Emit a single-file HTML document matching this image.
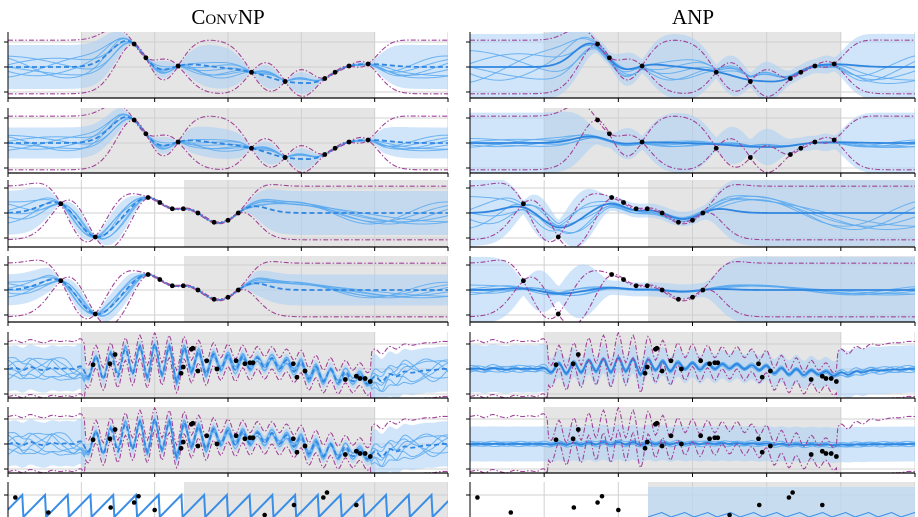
<!DOCTYPE html>
<html><head><meta charset="utf-8"><style>
html,body{margin:0;padding:0;background:#fff;width:918px;height:517px;overflow:hidden}
svg{display:block}
</style></head><body>
<svg id="fig" width="918" height="517" viewBox="0 0 918 517" xmlns="http://www.w3.org/2000/svg">
<text x="228" y="24" text-anchor="middle" font-family="Liberation Serif, serif" font-size="21">C<tspan font-size="15">ONV</tspan>NP</text>
<text x="693" y="24" text-anchor="middle" font-family="Liberation Serif, serif" font-size="21">ANP</text>
<g id="panels"></g>
</svg>
<script>
var ctxX_smooth = [1.72,1.88,2.32,3.32,3.78,4.32,4.46,4.65,4.91];
var ctxY_smooth = [0.92,0.37,0.04,-0.21,-0.58,-0.46,-0.21,0.04,0.12];
var ctxX_short = [0.72,1.19,1.91,2.07,2.24,2.39,2.59,2.81,3.0,3.14];
var ctxY_short = [0.37,-0.96,0.62,0.42,0.17,0.17,0,-0.37,-0.29,0];
var ctxX_wave = [1.16,1.39,1.46,2.36,2.39,2.5,2.52,2.59,2.71,2.85,3.11,3.23,3.3,3.34,3.89,3.94,4.05,4.6,4.75,4.8,4.87,4.94];
var ctxY_wave = [0.17,0.21,0.58,-0.17,0.08,0.79,0.83,-0.08,0.33,0,0.33,0.21,0.25,0.25,0.21,-0.33,-0.08,-0.42,-0.29,-0.38,-0.38,-0.5];
var waveVals = [0,0.05,-0.05,0.08,0,-0.05,0.05,0,0.03,0,
 0.1,-0.3,0.5,-0.4,0.6,-0.3,0.8,-0.2,0.9,-0.3,
 1.0,-0.2,0.9,-0.5,0.85,-0.1,0.7,-0.2,0.6,0,
 0.55,-0.05,0.5,0,0.45,0.05,0.45,0,0.35,-0.1,
 0.3,-0.4,0.1,-0.5,0,-0.55,-0.1,-0.5,-0.2,-0.6,
 -0.3,-0.5,-0.2,-0.3,-0.1,-0.15,-0.1,-0.05,-0.05,0,0];
var sawX = [0.1,0.55,0.95,1.4,1.72,1.78,2.3,2.6,3.1,3.5,3.9,4.3,4.35,4.75,1.0,2.0,2.9];
var sawY = [0.9,0.3,-0.9,0.5,0.7,0.95,-0.2,-0.7,-0.5,0.2,0.6,0.9,1.1,0.6,-1.0,0.4,-0.9];
var sawPeriod = 0.31;
var rowTicksY = [-1,0,1];
var xTicks = [0,1,2,3,4,5,6];

var NS="http://www.w3.org/2000/svg";
var rootG=document.getElementById('panels');
function mk(t,a,p){var e=document.createElementNS(NS,t);for(var k in a)e.setAttribute(k,String(a[k]));(p||rootG).appendChild(e);return e;}

function gp(cx,cy,ls,pv){
  var n=cx.length,A=[],i,j,r;
  for(i=0;i<n;i++){A.push([]);for(j=0;j<n;j++)A[i].push(pv*Math.exp(-Math.pow(cx[i]-cx[j],2)/(2*ls*ls))+(i==j?1e-3:0));
    for(j=0;j<n;j++)A[i].push(i==j?1:0);}
  for(i=0;i<n;i++){var pv2=A[i][i];for(j=0;j<2*n;j++)A[i][j]/=pv2;
    for(r=0;r<n;r++)if(r!=i){var fc=A[r][i];for(j=0;j<2*n;j++)A[r][j]-=fc*A[i][j];}}
  var Ki=A.map(function(row){return row.slice(n);});
  var alpha=Ki.map(function(row){var s=0;for(var q=0;q<n;q++)s+=row[q]*cy[q];return s;});
  return function(x){var k=cx.map(function(c){return pv*Math.exp(-Math.pow(x-c,2)/(2*ls*ls));});
    var m=0,q=0,a,b;for(a=0;a<n;a++)m+=k[a]*alpha[a];
    for(a=0;a<n;a++)for(b=0;b<n;b++)q+=k[a]*Ki[a][b]*k[b];
    return [m,Math.sqrt(Math.max(pv-q,1e-6))];};
}
function waveMean(x){var t=x/0.1;var i=Math.max(0,Math.min(59,Math.floor(t)));var f=t-i;
  var a=waveVals[Math.max(0,i-1)],b=waveVals[i],c=waveVals[i+1],d=waveVals[Math.min(60,i+2)];
  return 0.5*((2*b)+(-a+c)*f+(2*a-5*b+4*c-d)*f*f+(-a+3*b-3*c+d)*f*f*f);}

var rows=[{t:32,cy:67,b:98},{t:108,cy:143,b:173},{t:180,cy:213,b:247},{t:256,cy:290,b:322},{t:332,cy:369,b:398},{t:407,cy:444,b:473},{t:482,cy:520,b:517}];
var cols=[{x0:8,x1:448},{x0:470,x1:915}];
var gpSmooth=gp(ctxX_smooth,ctxY_smooth,0.25,1.15);
var gpShort=gp(ctxX_short,ctxY_short,0.25,1.15);

function drawPanel(R,ri,C,ci){
  var g=mk('g',{});
  function sx(x){return C.x0+x*(C.x1-C.x0)/6;}
  function sy(y){return R.cy-y*25;}
  var cid='clip'+ri+'x'+ci;
  var cp=mk('clipPath',{id:cid},g);
  mk('rect',{x:C.x0,y:R.t,width:C.x1-C.x0,height:R.b-R.t},cp);
  var inner=mk('g',{'clip-path':'url(#'+cid+')'},g);
  var isShort=(ri==2||ri==3||ri==6);
  var gx0=isShort?2.4:1.0,gx1=isShort?6:5;
  var gr=mk('rect',{x:sx(gx0),y:R.t,width:sx(gx1)-sx(gx0),height:R.b-R.t,fill:'#e5e5e5'},inner);
  
  
  xTicks.forEach(function(t){mk('line',{x1:sx(t),x2:sx(t),y1:R.t,y2:R.b,stroke:'#d0d0d0','stroke-width':1},inner);});
  rowTicksY.forEach(function(t){if(sy(t)<R.b)mk('line',{x1:C.x0,x2:C.x1,y1:sy(t),y2:sy(t),stroke:'#d0d0d0','stroke-width':1},inner);});
  var wave=(ri==4||ri==5), d, x, i;
  if(ri==6){
    d='';
    if(ci==0){for(x=-0.1;x<6.1;x+=sawPeriod){d+='M'+sx(x)+','+Math.min(sy(-1.2),517)+'L'+sx(x+sawPeriod*0.95)+','+sy(1.0)+'L'+sx(x+sawPeriod)+','+Math.min(sy(-1.2),517);}
      mk('path',{d:d,stroke:'#3a8ee6','stroke-width':2,fill:'none'},inner);}
    else{mk('rect',{x:sx(2.4),y:R.t+5,width:sx(6)-sx(2.4),height:R.b-R.t-5,fill:'#bcd9f5',opacity:0.7},inner);
      for(x=2.4;x<6;x+=sawPeriod){d+='M'+sx(x)+',517L'+sx(x+sawPeriod*0.6)+','+sy(0.3)+'L'+sx(x+sawPeriod)+',517';}
      mk('path',{d:d,stroke:'#3a8ee6','stroke-width':1,fill:'none'},inner);}
    sawX.forEach(function(xv,k){
      if(sy(sawY[k])>R.b-2)return;
      var c=mk('circle',{cx:sx(xv),cy:sy(sawY[k]),r:2.3,fill:'#000'},inner);
      
      });
  } else {
    var f;
    if(wave){f=function(x){var m=waveMean(x);var s=(x>1.05&&x<4.95)?0.35:1.1;return [m,s];};}
    else f=(ri<2)?gpSmooth:gpShort;
    var xs=[],stp=wave?0.02:0.04;for(x=0;x<=6.0001;x+=stp)xs.push(x);
    var P=xs.map(function(v){return f(v);});
    var damp=ci==0?1:[0.9,0.25,0.6,0.15,0.45,0.08][ri];
    var mean=P.map(function(p){return p[0]*damp;});
    var bs=P.map(function(p){
      if(ci==0) return (ri==1||ri==3)?Math.min(p[1]*0.8,0.3+p[1]*0.3):p[1]*0.82;
      return wave?(ri==5?0.7:0.4+p[1]*0.5):0.25+p[1]*(ri==1?0.9:1.0);});
    d='M';
    for(i=0;i<xs.length;i++)d+=sx(xs[i])+','+sy(mean[i]+bs[i])+' L';
    for(i=xs.length-1;i>=0;i--)d+=sx(xs[i])+','+sy(mean[i]-bs[i])+(i?' L':' Z');
    var band=mk('path',{d:d,fill:'#a9d0f5',opacity:0.55},inner);
    
    
    var nS=ci==0?6:5;
    for(var k=0;k<nS;k++){
      var ph=k*1.7,fr=wave?(ci?9:3+k):1.3+k*0.35,amp=(ci&&ri!=0&&ri!=2)?0.15:0.5,sg=(k%2)?1:-0.8;
      var pts=[];
      for(i=0;i<xs.length;i++)pts.push(sx(xs[i])+','+sy(mean[i]+bs[i]*amp*Math.sin(ph+fr*xs[i])*sg));
      mk('polyline',{points:pts.join(' '),fill:'none',stroke:'#5aa9ee','stroke-width':1,opacity:0.85},inner);
    }
    var mp=[];for(i=0;i<xs.length;i++)mp.push(sx(xs[i])+','+sy(mean[i]));
    var ml=mk('polyline',{points:mp.join(' '),fill:'none',stroke:'#2f86e0','stroke-width':1.8},inner);
    if(!ci)ml.setAttribute('stroke-dasharray','5,3');
    
    
    [1,-1].forEach(function(sgn){
      var pp=[];for(i=0;i<xs.length;i++){var s=wave?(P[i][1]>1?1.1:0.45):P[i][1];pp.push(sx(xs[i])+','+sy(P[i][0]+sgn*s));}
      var pl=mk('polyline',{points:pp.join(' '),fill:'none',stroke:'#a0449a','stroke-width':1.1,'stroke-dasharray':'5,2,1.5,2'},inner);
      
      
    });
    var cxs=wave?ctxX_wave:(ri<2?ctxX_smooth:ctxX_short), cys=wave?ctxY_wave:(ri<2?ctxY_smooth:ctxY_short);
    cxs.forEach(function(xv,k2){
      var c=mk('circle',{cx:sx(xv),cy:sy(cys[k2]),r:2.4,fill:'#000'},inner);
      
      });
  }
  mk('line',{x1:C.x0,x2:C.x0,y1:R.t,y2:R.b,stroke:'#000','stroke-width':1},g);
  rowTicksY.forEach(function(t){if(sy(t)<R.b-2)mk('line',{x1:C.x0-4,x2:C.x0,y1:sy(t),y2:sy(t),stroke:'#000','stroke-width':1},g);});
  if(R.b<512){mk('line',{x1:C.x0,x2:C.x1,y1:R.b,y2:R.b,stroke:'#000','stroke-width':1.2},g);
    xTicks.forEach(function(t){mk('line',{x1:sx(t),x2:sx(t),y1:R.b,y2:R.b+4,stroke:'#000','stroke-width':1},g);});}
}
rows.forEach(function(R,ri){cols.forEach(function(C,ci){
  try{drawPanel(R,ri,C,ci);}catch(e){}
});});
</script>
</body></html>
